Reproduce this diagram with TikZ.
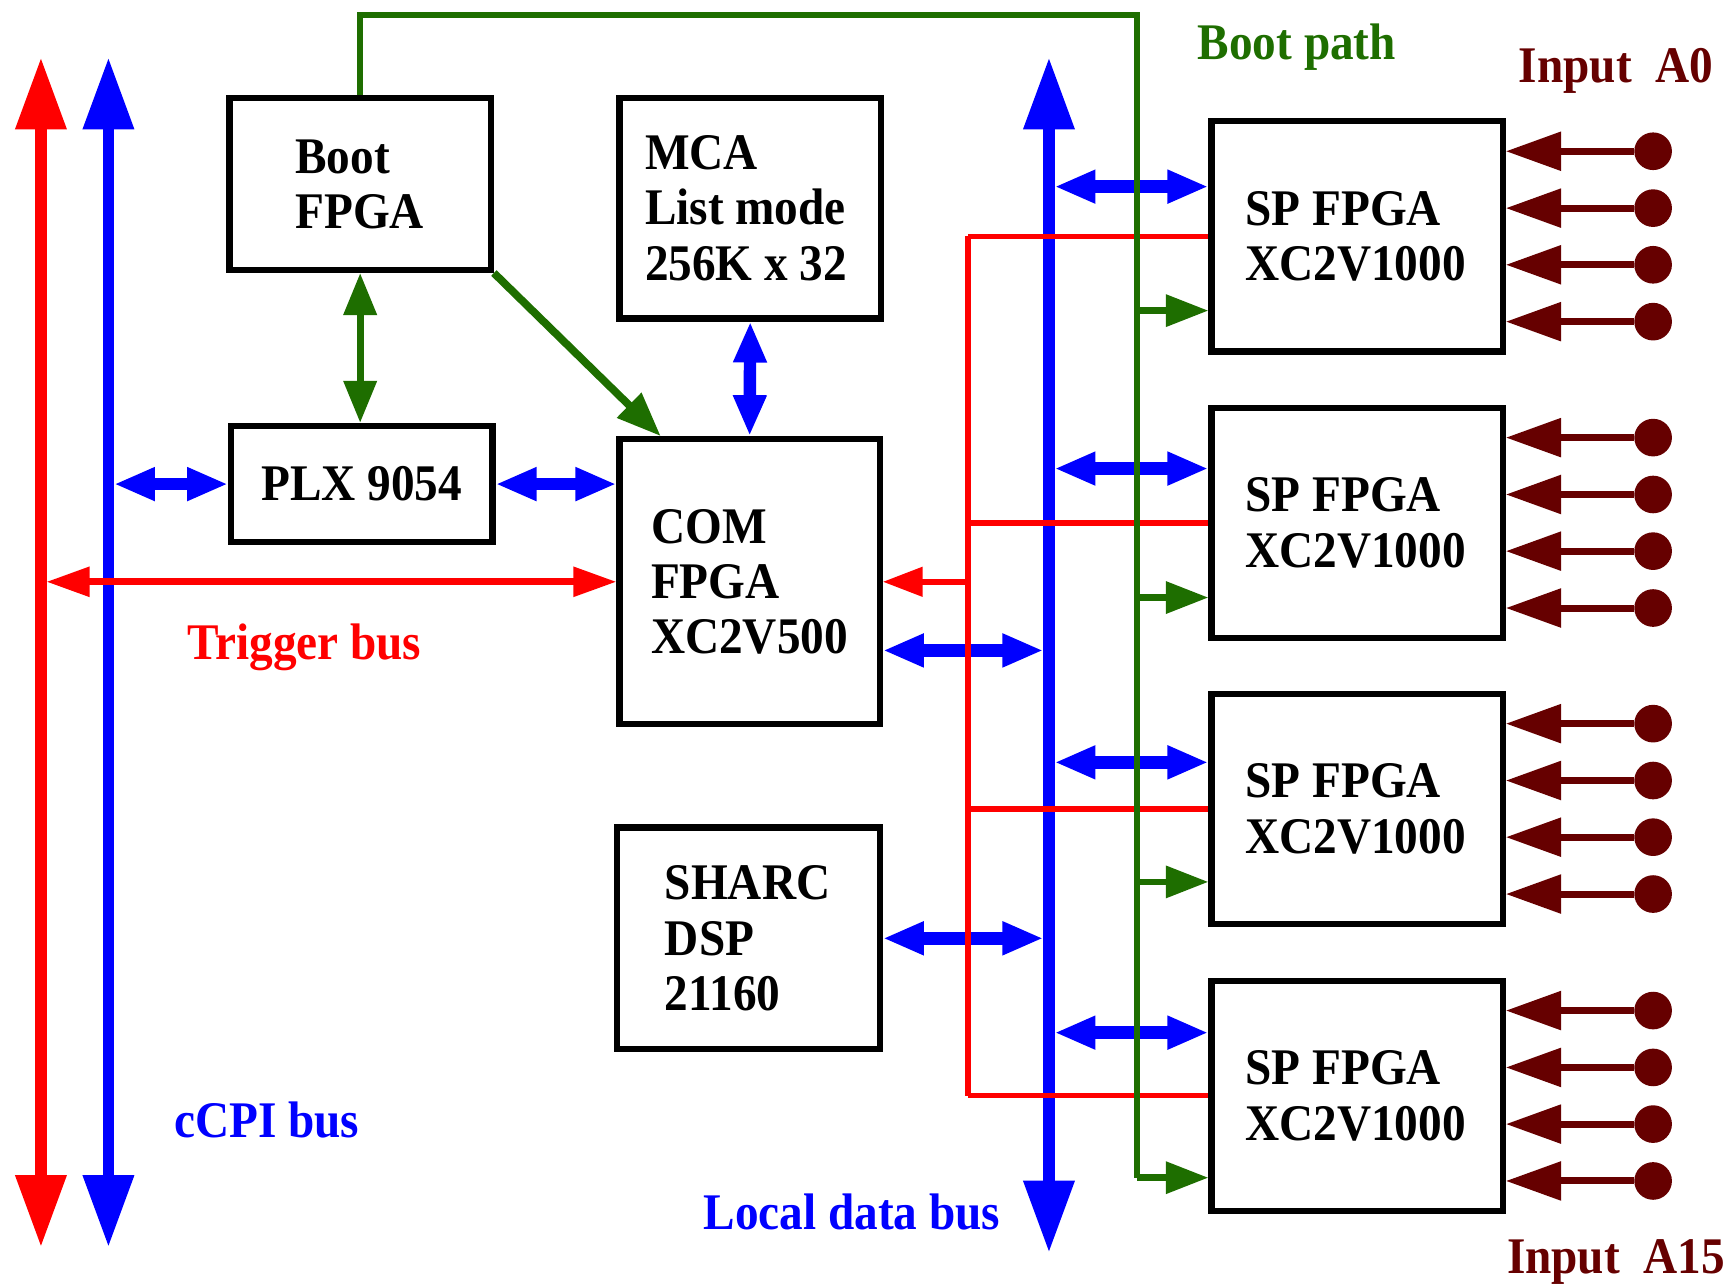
\documentclass[tikz,border=0pt]{standalone}
\usepackage{fontspec}
\newfontfamily\figfont{Liberation Serif}[FakeStretch=0.92]
\usetikzlibrary{arrows.meta,positioning}
\definecolor{bootgreen}{RGB}{30,110,0}
\definecolor{inred}{RGB}{102,0,0}

\begin{document}
\begin{tikzpicture}[
  x=0.01cm, y=-0.01cm,
  font=\figfont\bfseries\fontsize{13.2}{14.2}\selectfont,
  box/.style={draw=black, line width=1.6pt, align=flush left, inner sep=0pt},
  spbox/.style={box, minimum width=2.63cm, minimum height=2.08cm, text width=2.02cm},
  bus/.style={line width=2.9pt,
              {Triangle[length=6.5mm,width=4.4mm]}-{Triangle[length=6.5mm,width=4.4mm]}},
  link/.style={line width=3.2pt, blue,
               {Triangle[length=3.7mm,width=2.8mm]}-{Triangle[length=3.7mm,width=2.8mm]}},
  boot/.style={line width=1.7pt, bootgreen},
  trig/.style={line width=1.4pt, red},
  inp/.style={line width=1.8pt, inred, -{Triangle[length=5mm,width=3.4mm]}},
  dot/.style={circle, fill=inred, inner sep=0pt, minimum size=3.4mm},
  lbl/.style={inner sep=0pt}
]
\useasboundingbox (0,0) rectangle (1568,1161);

% blocks
\node[box, minimum width=2.36cm, minimum height=1.55cm, text width=1.17cm] (boot) at (325.5,166.4)
  {Boot\\FPGA};
\node[box, minimum width=2.36cm, minimum height=1.99cm, text width=1.9cm] (mca) at (678,188.2)
  {MCA\\List mode\\256K x 32};
\node[box, minimum width=2.36cm, minimum height=1.05cm, align=center] (plx) at (327,437.5)
  {PLX 9054};
\node[box, minimum width=2.35cm, minimum height=2.575cm, text width=1.78cm] (com) at (677.5,525.8)
  {COM\\FPGA\\XC2V500};
\node[box, minimum width=2.37cm, minimum height=2.0cm, text width=1.51cm] (sharc) at (676.5,848)
  {SHARC\\DSP\\21160};
\node[spbox] (sp1) at (1226.5,213.7) {SP FPGA\\XC2V1000};
\node[spbox] (sp2) at (1226.5,472.5) {SP FPGA\\XC2V1000};
\node[spbox] (sp3) at (1226.5,731) {SP FPGA\\XC2V1000};
\node[spbox] (sp4) at (1226.5,990.3) {SP FPGA\\XC2V1000};

% buses
\coordinate (trgtop) at (37,52);
\coordinate (trgbot) at (37,1127);
\coordinate (cpitop) at (98,52);
\coordinate (cpibot) at (98,1127);
\coordinate (ldtop) at (948,52);
\coordinate (ldbot) at (948,1132);
\coordinate (trtop) at (875,213.7);
\coordinate (trbot) at (875,990.3);
\coordinate (bptop) at (1027.6,13.5);
\coordinate (bpbot) at (1027.6,1064.5);
\draw[bus, red] (trgtop) -- (trgbot);
\draw[bus, blue] (cpitop) -- (cpibot);
\draw[bus, blue] (ldtop) -- (ldbot);

% local links
\draw[link, shorten <=0.5mm] (cpitop |- plx.west) -- (plx.west);
\draw[link] (plx.east) -- (com.west |- plx.east);
\draw[link] (mca.south) -- (com.north);
\coordinate (comld) at ([yshift=-0.62cm]com.east);
\draw[link, shorten >=0.5mm] (comld) -- (ldtop |- comld);
\draw[link, shorten >=0.5mm] (sharc.east) -- (ldtop |- sharc.east);
\foreach \n/\b in {1/0.45,2/0.49,3/0.42,4/0.57} {
  \coordinate (d\n) at ([yshift=\b cm]sp\n.west);
  \draw[link, shorten <=0.5mm] (ldtop |- d\n) -- (d\n);
}

% trigger
\draw[trig, line width=1.7pt, shorten <=0.5mm,
      {Triangle[length=3.9mm,width=2.6mm]}-{Triangle[length=3.9mm,width=2.6mm]}]
  (trgtop |- com.west) -- (com.west);
\draw[trig] (trtop) -- (trbot);
\draw[trig, -{Triangle[length=3.6mm,width=2.6mm]}] (trtop |- com.east) -- (com.east);
\foreach \n in {1,2,3,4}
  \draw[trig] (trtop |- sp\n.west) -- (sp\n.west);

% boot path
\draw[boot, line width=1.8pt,
      {Triangle[length=3.8mm,width=2.9mm]}-{Triangle[length=3.8mm,width=2.9mm]}]
  (boot.south) -- (boot.south |- plx.north);
\draw[boot, line width=2pt, -{Triangle[length=4mm,width=3mm]}]
  (boot.south east) -- ([xshift=0.4cm]com.north west);
\draw[boot] (boot.north) |- (bptop) -- (bpbot);
\foreach \n/\g in {1/0.67,2/0.675,3/0.66,4/0.74} {
  \coordinate (g\n) at ([yshift=-\g cm]sp\n.west);
  \draw[boot, -{Triangle[length=3.85mm,width=2.8mm]}] (bptop |- g\n) -- (g\n);
}

% inputs
\foreach \n/\y in {1/213.7,2/472.5,3/731,4/990.3}
  \foreach \k/\dy in {a/-77,b/-25.6,c/25.6,d/77} {
    \node[dot] (in\n\k) at (1494,{\y+\dy}) {};
    \draw[inp] (in\n\k) -- (sp\n.east |- in\n\k);
  }

% labels
\node[lbl, text=bootgreen] (bootlbl) at (1172,43) {Boot path};
\node[lbl, text=inred] (firstin) at (1460.6,64.5) {Input\ \ A0};
\node[lbl, text=inred] (lastin) at (1460.5,1140.5) {Input\ \ A15};
\node[lbl, text=red] (trglbl) at (275,585) {Trigger bus};
\node[lbl, text=blue] (cpilbl) at (241,1012) {cCPI bus};
\node[lbl, text=blue] (ldlbl) at (770,1095) {Local data bus};
\end{tikzpicture}
\end{document}
